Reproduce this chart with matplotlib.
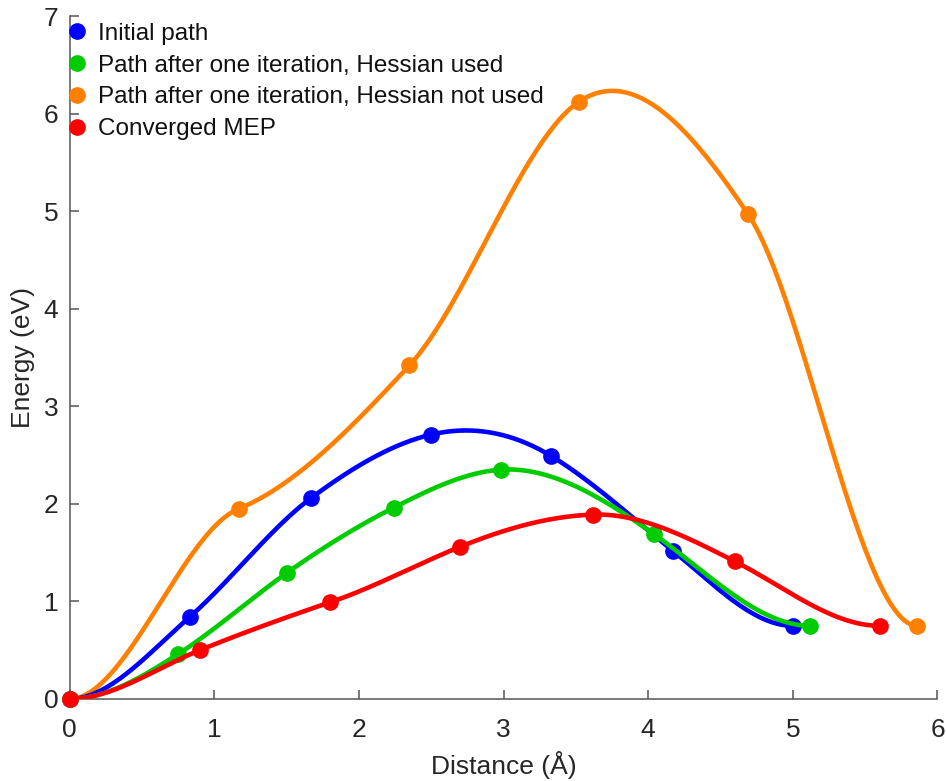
import numpy as np
import matplotlib
matplotlib.use("Agg")
import matplotlib.pyplot as plt

plt.rcParams['font.family'] = ['Liberation Sans', 'DejaVu Sans']

# Data: images along the path (distance in Å, energy in eV, slope dE/dx)
init_x = [0.0, 0.83, 1.67, 2.50, 3.33, 4.17, 5.00]
init_e = [0.0, 0.84, 2.06, 2.71, 2.49, 1.52, 0.75]
init_s = [0.0, 1.30, 1.10, 0.35, -0.90, -1.20, 0.0]

hess_x = [0.0, 0.75, 1.50, 2.24, 2.98, 4.04, 5.12]
hess_e = [0.0, 0.46, 1.29, 1.96, 2.35, 1.69, 0.75]
hess_s = [0.0, 0.95, 1.05, 0.75, 0.10, -1.05, 0.0]

nohess_x = [0.0, 1.17, 2.35, 3.52, 4.69, 5.86]
nohess_e = [0.0, 1.95, 3.42, 6.12, 4.97, 0.75]
nohess_s = [0.0, 0.60, 1.60, 1.00, -2.20, 0.0]

mep_x = [0.0, 0.90, 1.80, 2.70, 3.62, 4.60, 5.60]
mep_e = [0.0, 0.50, 0.99, 1.56, 1.89, 1.41, 0.75]
mep_s = [0.0, 0.60, 0.50, 0.60, 0.05, -0.75, 0.0]

labels = ["Initial path",
          "Path after one iteration, Hessian used",
          "Path after one iteration, Hessian not used",
          "Converged MEP"]
colors = ["#0000FF", "#00CC00", "#FF8000", "#FF0000"]


def hermite(x, y, s, n=60):
    x = np.asarray(x, float); y = np.asarray(y, float); s = np.asarray(s, float)
    xs, ys = [], []
    for i in range(len(x) - 1):
        h = x[i + 1] - x[i]
        t = np.linspace(0, 1, n)
        h00 = 2 * t**3 - 3 * t**2 + 1
        h10 = t**3 - 2 * t**2 + t
        h01 = -2 * t**3 + 3 * t**2
        h11 = t**3 - t**2
        xs.append(x[i] + t * h)
        ys.append(h00 * y[i] + h10 * h * s[i] + h01 * y[i + 1] + h11 * h * s[i + 1])
    return np.concatenate(xs), np.concatenate(ys)


fig = plt.figure(figsize=(9.46, 7.81), dpi=100)
ax = fig.add_axes([0.0735, 0.105, 0.9175, 0.8745])

series = [(init_x, init_e, init_s), (hess_x, hess_e, hess_s),
          (nohess_x, nohess_e, nohess_s), (mep_x, mep_e, mep_s)]
zorders = [3, 4, 2, 5]
handles = []
for (x, e, s), lab, c, z in zip(series, labels, colors, zorders):
    cx, cy = hermite(x, e, s)
    ax.plot(cx, cy, color=c, lw=3.3, zorder=z, solid_capstyle='round')
    h, = ax.plot(x, e, 'o', color=c, ms=11, zorder=z + 0.5, label=lab, clip_on=False)
    handles.append(h)

ax.set_xlim(0, 6)
ax.set_ylim(0, 7)
ax.set_xticks(range(0, 7))
ax.set_yticks(range(0, 8))
for sp in ['top', 'right']:
    ax.spines[sp].set_visible(False)
for sp in ['left', 'bottom']:
    ax.spines[sp].set_color('#555555')
    ax.spines[sp].set_linewidth(1.1)
ax.tick_params(direction='in', length=6.5, width=1.1, color='#555555',
               labelsize=19, labelcolor='#262626')
ax.tick_params(axis='x', pad=14)
ax.tick_params(axis='y', pad=8)
ax.set_xlabel("Distance (Å)", fontsize=19, color='#262626', labelpad=6.5)
ax.set_ylabel("Energy (eV)", fontsize=19, color='#262626', labelpad=6)

leg = ax.legend(handles=handles, loc='upper left', bbox_to_anchor=(0.0, 0.990),
                frameon=False, fontsize=17.5, handlelength=0.6, handletextpad=0.57,
                labelspacing=0.40, borderaxespad=0.0, borderpad=0.0, markerscale=1.0)
for t in leg.get_texts():
    t.set_color('#111111')

fig.savefig("out.png", dpi=100)
